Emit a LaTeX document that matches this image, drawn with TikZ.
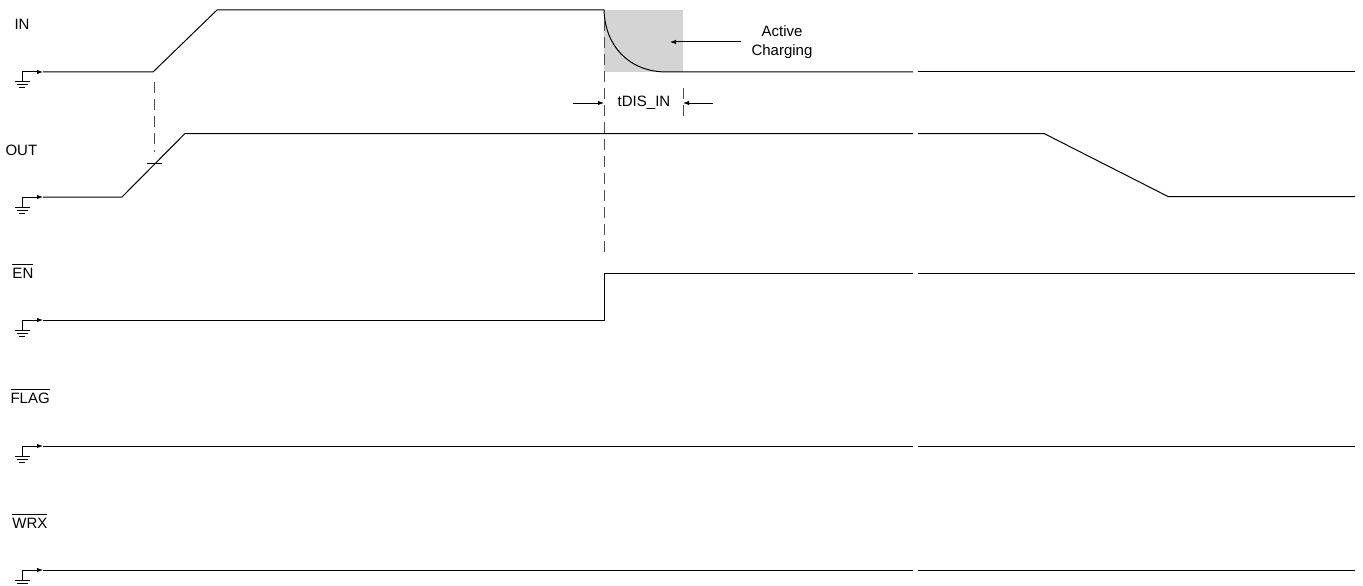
\documentclass[tikz,border=0pt]{standalone}
\usepackage{fontspec}
\setmainfont{Liberation Sans}
\usepackage{tikz}
\usetikzlibrary{arrows.meta}

\newcommand{\nbar}[1]{$\overline{\mbox{\rule{0pt}{12.5pt}#1}}$}

\begin{document}
\begin{tikzpicture}[x = 1pt, y = -1pt, line width = 1pt,
	>={Latex[length=6pt, width=4.5pt]},
	lbl/.style = {inner sep = 0pt, font = \fontsize{15}{19}\selectfont},
	guide/.style = {dash pattern = on 11pt off 6pt, black!70}]

\useasboundingbox (0,0) rectangle (1363,586);

% shaded window
\fill[black!17] (604,10) rectangle (683,72);

% ground symbols
\foreach \y in {72, 197, 320, 446, 570} {
	\draw (22,\y)--(22,\y+10);
	\draw (15,\y+10)--(30,\y+10);
	\draw (17,\y+13)--(28,\y+13);
	\draw (19,\y+16)--(25,\y+16);
	\draw[->] (22,\y)--(43,\y);
}

% IN
\draw (43,72)--(153,72)--(217,10)--(604,10) .. controls (605,45) and (628,72) .. (667,72)--(913,72);
% OUT
\draw (43,197)--(122,197)--(185,133.5)--(913,133.5);
\draw (918,133.5)--(1044,133.5)--(1168,196.5)--(1355,196.5);
% EN
\draw (43,320)--(604,320)--(604,273)--(913,273);
% FLAG, WRX
\foreach \y in {446, 570} {
	\draw (43,\y)--(913,\y);
}
\foreach \y in {72, 273, 446, 570} {
	\draw (918,\y)--(1355,\y);
}

% guides
\draw[guide] (154,82)--(154,152);
\draw (147,163)--(162,163);
\draw[guide] (604,20)--(604,258);
\draw[guide] (683,88)--(683,118);

% labels
\draw node[lbl, anchor = base west] (in) at (14,29.4) {IN};
\draw node[lbl, anchor = base west] (out) at (5,155.4) {OUT};
\draw node[lbl, anchor = base west] (en) at (12,278.4) {\nbar{EN}};
\draw node[lbl, anchor = base west] (flag) at (10,403.4) {\nbar{FLAG}};
\draw node[lbl, anchor = base west] (wrx) at (12,528.4) {\nbar{WRX}};

% annotations
\draw node[lbl, align = center] (charge) at (782,42) {Active\\Charging};
\coordinate (chgtip) at (670,42);
\draw[->] ([xshift=-10pt]charge.west)--(chgtip);

\draw node[lbl] (tdis) at (644,103) {tDIS\_IN};
\coordinate (disL) at (573,103);
\coordinate (disLtip) at (604,103);
\coordinate (disR) at (713,103);
\coordinate (disRtip) at (683,103);
\draw[->] (disL)--(disLtip);
\draw[->] (disR)--(disRtip);
\end{tikzpicture}
\end{document}
